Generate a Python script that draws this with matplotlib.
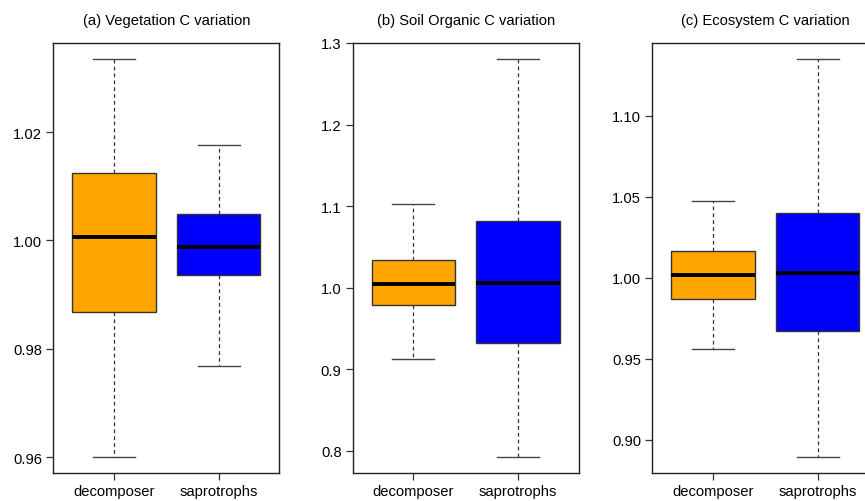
import matplotlib
matplotlib.use("Agg")
import matplotlib.pyplot as plt

plt.rcParams['font.family'] = ['Liberation Sans', 'DejaVu Sans']

groups = ['decomposer', 'saprotrophs']
box_colors = ['#FFA500', '#0000FF']

# whisker low, Q1, median, Q3, whisker high
veg_low = [0.9600, 0.9768]
veg_q1 = [0.9868, 0.9937]
veg_med = [1.0006, 0.9988]
veg_q3 = [1.0125, 1.0049]
veg_high = [1.0335, 1.0177]

soil_low = [0.9126, 0.7922]
soil_q1 = [0.9788, 0.9322]
soil_med = [1.0045, 1.0057]
soil_q3 = [1.0343, 1.0817]
soil_high = [1.1021, 1.2798]

eco_low = [0.9559, 0.8893]
eco_q1 = [0.9870, 0.9673]
eco_med = [1.0014, 1.0027]
eco_q3 = [1.0167, 1.0397]
eco_high = [1.0473, 1.1349]

titles = ['(a) Vegetation C variation', '(b) Soil Organic C variation',
          '(c) Ecosystem C variation']
yticks_a = [0.96, 0.98, 1.00, 1.02]
yticks_b = [0.8, 0.9, 1.0, 1.1, 1.2, 1.3]
yticks_c = [0.90, 0.95, 1.00, 1.05, 1.10]

panels = [
    (veg_low, veg_q1, veg_med, veg_q3, veg_high, yticks_a, '%.2f'),
    (soil_low, soil_q1, soil_med, soil_q3, soil_high, yticks_b, '%.1f'),
    (eco_low, eco_q1, eco_med, eco_q3, eco_high, yticks_c, '%.2f'),
]

W, H = 865, 502
fig = plt.figure(figsize=(W / 100, H / 100), dpi=100)
lefts = [53.3, 352.7, 652.3]

for i, (lo, q1, med, q3, hi, yt, fmt) in enumerate(panels):
    ax = fig.add_axes([lefts[i] / W, 28 / H, 226 / W, 430 / H])
    stats = []
    for j in range(2):
        stats.append(dict(label=groups[j], whislo=lo[j], q1=q1[j], med=med[j],
                          q3=q3[j], whishi=hi[j], fliers=[]))
    bp = ax.bxp(stats, positions=[1, 2], widths=0.8, patch_artist=True,
                showfliers=False,
                boxprops=dict(edgecolor='#333333', linewidth=1.0),
                medianprops=dict(color='black', linewidth=2.8, solid_capstyle='butt'),
                whiskerprops=dict(color='#333333', linewidth=0.9, linestyle=(0, (3, 2.5))),
                capprops=dict(color='#444444', linewidth=1.0),
                capwidths=0.4)
    for patch, c in zip(bp['boxes'], box_colors):
        patch.set_facecolor(c)
    ymin = min(lo)
    ymax = max(hi)
    r = ymax - ymin
    ax.set_ylim(ymin - 0.04 * r, ymax + 0.04 * r)
    ax.set_xlim(0.42, 2.58)
    ax.set_yticks(yt)
    ax.set_yticklabels([fmt % v for v in yt])
    ax.set_xticks([1, 2])
    ax.set_xticklabels(groups)
    ax.tick_params(direction='out', length=5, width=0.9, labelsize=10.6,
                   pad=3, color='#333333')
    for s in ax.spines.values():
        s.set_linewidth(1.0)
        s.set_color('#222222')
    ax.set_title(titles[i], fontsize=10.6, pad=14)

fig.savefig('out.png', dpi=100)
